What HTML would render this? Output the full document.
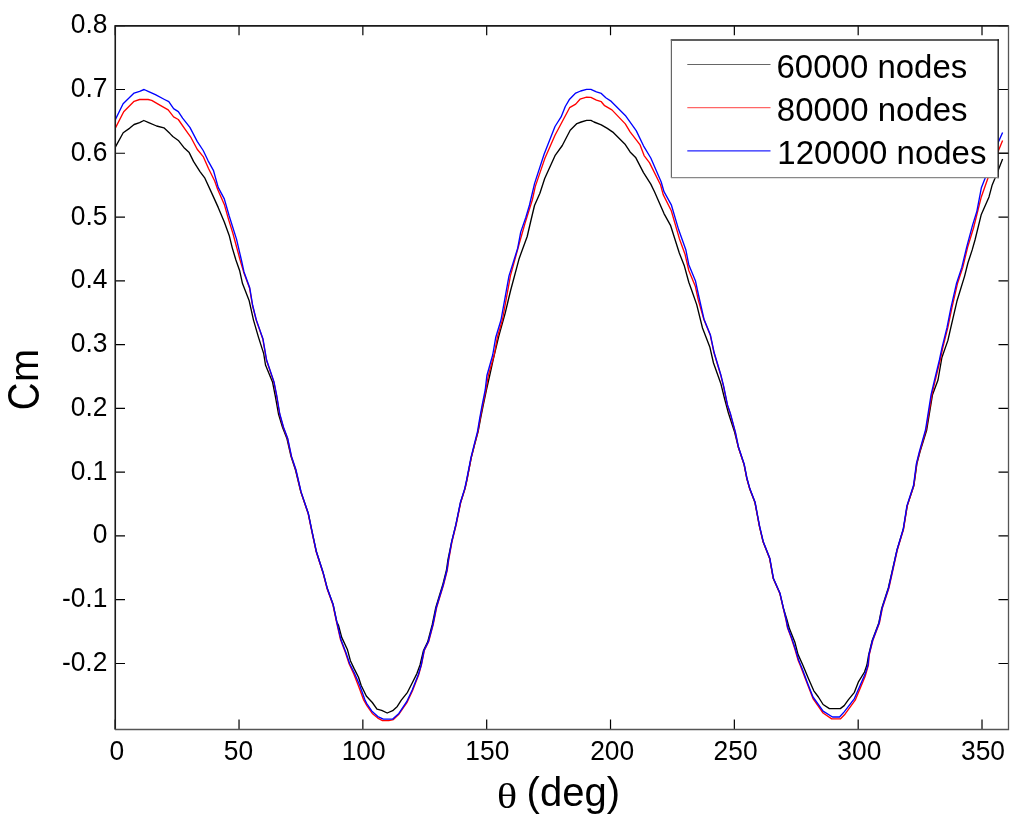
<!DOCTYPE html>
<html><head><meta charset="utf-8"><style>
html,body{margin:0;padding:0;background:#fff;width:1024px;height:822px;overflow:hidden}
svg{display:block;will-change:transform}
.ls{font-family:"Liberation Sans",sans-serif}
.lsr{font-family:"Liberation Serif",serif}
</style></head><body>
<svg width="1024" height="822" viewBox="0 0 1024 822">
<defs><clipPath id="ax"><rect x="115" y="25" width="894" height="705"/></clipPath></defs>
<g clip-path="url(#ax)" fill="none" stroke-width="1.35" stroke-linejoin="round">
<polyline stroke="#000" points="115.2,147.4 123.2,132.8 129.8,128.1 134.1,124.5 139.6,122.6 143.8,120.5 148.7,122.6 156.6,126.0 163.9,127.8 170.0,133.6 172.8,136.5 178.7,140.8 183.8,147.4 189.2,152.6 193.5,161.4 200.0,171.6 204.9,178.2 212.2,194.1 218.2,207.4 224.3,222.0 229.2,235.4 232.2,247.6 235.9,260.0 239.6,270.4 242.5,283.6 249.1,300.4 253.5,320.1 258.6,337.6 263.7,353.6 265.5,365.0 272.5,381.9 275.4,396.5 278.5,414.0 282.5,427.2 287.0,438.8 291.0,456.4 295.5,470.0 300.8,491.9 308.4,513.8 312.0,531.3 316.4,551.8 323.0,572.2 327.4,588.8 333.2,604.8 336.9,622.3 338.4,625.0 341.7,637.4 347.5,649.8 350.4,660.7 354.0,668.4 358.5,677.3 361.2,685.5 366.3,696.0 369.5,699.5 372.3,702.5 377.0,709.1 381.7,710.3 387.2,713.0 392.7,710.7 397.3,706.4 401.3,700.2 407.5,692.3 412.2,683.0 416.9,673.6 420.0,665.0 423.5,650.5 427.7,641.8 432.3,624.5 435.8,607.5 439.3,596.0 442.6,585.3 446.5,570.0 447.9,560.0 451.6,542.2 455.9,524.7 460.5,502.8 465.0,488.6 466.9,480.0 471.2,457.9 474.6,444.7 478.1,431.6 480.6,418.4 483.0,406.4 486.4,390.0 489.8,375.0 493.3,359.1 498.8,336.1 505.2,313.1 508.3,300.0 510.6,290.5 519.2,258.4 527.2,236.5 530.8,221.0 534.5,205.5 539.9,193.3 544.7,178.5 555.0,155.7 562.3,145.5 570.2,130.3 576.9,123.6 581.2,122.0 586.6,120.4 590.9,120.4 594.0,122.0 601.3,124.8 607.3,128.4 612.8,132.1 625.3,144.6 630.1,151.9 635.6,157.4 643.5,172.6 650.8,184.1 654.5,191.7 664.0,213.6 670.5,225.3 679.3,253.0 684.4,266.1 688.8,282.2 691.6,290.0 696.7,304.6 702.5,328.0 709.8,346.9 713.5,363.0 720.8,383.4 724.4,398.0 728.4,413.0 734.6,432.1 738.2,446.7 744.0,464.2 746.9,478.8 749.8,489.1 754.9,502.2 757.3,515.0 759.4,526.1 763.0,541.4 769.6,558.2 773.3,578.6 779.8,593.2 783.7,609.3 787.0,620.0 789.4,628.6 794.8,641.9 798.0,654.4 803.0,665.5 808.3,678.3 813.8,690.8 818.4,697.0 823.1,704.5 829.4,708.6 840.3,708.6 844.2,705.6 848.1,700.2 854.4,692.3 858.3,682.2 864.5,672.0 866.9,665.0 868.6,655.1 872.2,640.5 878.8,623.0 881.7,608.4 888.3,588.0 892.0,571.9 897.0,550.0 903.3,529.3 907.2,505.9 913.9,485.5 916.9,463.6 920.0,451.9 926.7,430.0 932.5,394.7 938.0,380.0 941.9,357.5 947.9,340.4 950.4,329.4 956.9,301.3 964.6,276.1 967.9,263.0 972.2,249.9 975.0,240.0 981.3,214.4 989.0,196.9 992.2,184.9 995.0,178.3 998.4,169.7 1002.6,159.1"/>
<polyline stroke="#f00" points="115.2,128.4 123.7,111.7 134.1,101.3 139.6,99.5 148.1,99.5 151.7,100.4 160.3,105.3 168.2,109.9 173.6,116.9 178.3,119.5 185.0,129.2 191.1,137.7 197.2,149.3 203.2,156.6 208.5,168.5 214.6,180.7 217.6,189.2 224.3,204.4 228.6,219.6 232.8,233.0 240.1,260.0 243.6,271.9 249.5,288.0 252.5,305.5 256.2,320.1 262.8,339.0 266.4,360.0 273.8,381.9 276.7,396.5 279.6,414.0 283.3,427.2 287.6,438.8 291.3,456.4 295.8,470.0 300.9,491.9 308.2,513.8 311.8,531.3 316.2,551.8 322.8,572.2 327.1,588.8 332.9,604.8 336.6,622.3 340.5,639.6 345.5,652.7 349.2,664.0 353.8,674.0 358.5,686.0 363.5,699.6 366.9,705.6 372.3,713.4 377.8,718.1 382.5,720.6 388.8,720.6 393.4,719.6 398.6,714.6 406.9,702.6 412.5,690.8 418.6,675.0 421.4,665.0 424.3,650.5 428.6,641.8 433.2,624.5 436.6,607.5 440.1,596.0 443.4,585.3 447.3,570.0 448.7,560.0 451.9,542.2 456.2,524.7 460.6,502.8 465.0,488.6 466.9,480.0 471.2,457.9 474.5,444.7 477.9,431.6 480.2,418.4 482.5,406.4 485.9,390.0 488.3,375.5 494.2,355.0 497.3,337.5 502.4,320.0 510.4,275.9 519.2,243.8 525.0,223.4 532.3,200.0 535.3,186.4 544.8,158.6 555.0,135.3 569.6,107.7 575.7,104.1 580.0,99.2 586.6,97.1 590.9,97.4 596.4,100.1 601.3,101.7 604.6,105.7 611.9,109.9 625.3,123.9 630.1,131.8 639.9,144.6 644.1,155.6 649.6,162.9 660.6,185.0 663.2,194.6 671.3,210.7 679.3,238.4 685.1,254.5 688.8,270.5 695.4,286.6 698.3,300.0 703.8,319.2 710.3,335.3 714.0,352.8 720.6,374.7 723.5,386.4 727.3,405.0 730.1,413.1 735.2,432.1 738.2,446.7 744.0,464.2 746.9,478.8 749.8,489.1 754.9,502.2 757.3,515.0 759.4,526.1 763.0,541.4 769.6,558.2 773.3,578.6 779.8,593.2 783.5,609.3 786.0,620.0 787.5,627.8 791.3,638.0 795.1,649.7 798.2,660.6 800.1,665.0 806.7,682.2 813.0,698.6 823.1,713.0 831.7,718.9 840.3,718.9 845.0,714.2 855.2,700.2 865.3,675.9 868.4,665.0 869.2,655.1 872.8,640.5 879.4,623.0 882.3,608.4 888.9,588.0 892.5,571.9 897.3,550.0 903.5,529.3 907.2,505.9 913.8,485.5 916.7,463.6 919.7,451.9 926.0,430.0 931.9,394.7 935.3,380.1 940.2,360.0 942.7,348.1 947.8,327.7 951.9,307.9 957.4,283.8 962.8,267.4 967.6,247.3 973.5,228.0 978.0,210.0 981.3,196.9 987.9,178.3 998.4,150.7 1002.6,140.5"/>
<polyline stroke="#00f" points="115.2,119.9 123.1,103.8 134.1,93.1 139.6,91.3 144.1,89.5 148.7,91.6 155.4,94.7 164.5,99.5 168.8,101.7 173.6,108.6 178.3,111.6 182.6,118.2 189.9,127.4 197.2,141.4 203.2,150.5 208.1,160.8 213.4,170.3 218.2,187.4 224.3,198.9 229.2,216.0 236.5,239.1 241.4,260.0 244.0,271.9 249.8,288.0 252.7,305.5 256.4,320.1 263.0,339.0 266.6,360.0 274.0,381.9 276.9,396.5 279.8,414.0 283.5,427.2 287.8,438.8 291.5,456.4 296.0,470.0 301.1,491.9 308.4,513.8 312.0,531.3 316.4,551.8 323.0,572.2 327.4,588.8 333.2,604.8 336.9,622.3 340.9,639.6 346.0,652.7 349.7,663.7 354.6,673.5 359.6,685.0 364.8,699.6 366.6,703.3 371.7,710.9 377.8,716.6 383.3,719.1 392.7,719.1 398.9,713.4 406.7,701.7 412.2,690.0 418.4,674.4 421.2,665.0 424.0,650.5 428.3,641.8 432.9,624.5 436.3,607.5 439.8,596.0 443.1,585.3 447.0,570.0 448.4,560.0 451.6,542.2 455.9,524.7 460.3,502.8 464.7,488.6 466.6,480.0 470.9,457.9 474.2,444.7 477.5,431.6 479.7,418.4 481.9,406.4 485.2,390.0 486.9,375.5 492.7,355.0 495.7,337.5 501.0,320.0 509.0,275.9 517.7,248.2 520.7,232.1 525.8,217.5 529.5,205.0 534.6,183.4 544.1,154.2 555.0,126.5 561.1,116.9 565.3,106.5 569.6,99.2 575.7,93.1 580.6,91.0 586.6,89.4 590.9,89.4 596.4,91.9 601.3,93.4 605.8,97.8 611.3,101.4 625.3,115.4 636.2,130.6 643.5,145.8 650.8,158.0 661.2,182.0 664.0,191.7 671.3,204.8 678.6,229.6 685.9,250.1 688.8,264.7 695.4,280.7 698.5,295.0 704.0,319.2 710.5,335.3 714.2,352.8 720.8,374.7 723.7,386.4 727.5,405.0 730.3,413.1 735.4,432.1 738.4,446.7 744.2,464.2 747.1,478.8 750.0,489.1 755.1,502.2 757.5,515.0 759.6,526.1 763.2,541.4 769.8,558.2 773.5,578.6 780.0,593.2 783.7,609.3 786.3,620.0 787.8,627.8 791.7,638.0 795.6,649.7 798.8,660.6 802.7,670.0 807.5,683.0 813.0,697.0 823.1,711.1 832.5,717.0 839.5,717.0 844.2,711.9 854.4,698.6 865.3,673.6 868.0,665.0 868.9,655.1 872.5,640.5 879.1,623.0 882.0,608.4 888.6,588.0 892.2,571.9 897.0,550.0 903.2,529.3 906.9,505.9 913.5,485.5 916.4,463.6 919.3,451.9 925.5,430.0 931.1,394.7 934.5,380.1 939.4,360.0 941.9,348.1 947.0,327.7 950.9,307.9 956.4,283.8 961.8,267.4 966.8,246.6 972.5,225.4 976.9,211.1 981.3,188.1 985.1,178.3 998.4,141.9 1002.6,132.4"/>
</g>
<path d="M115.20 729.5V719.5M115.20 25.7V35.2M239.03 729.5V719.5M239.03 25.7V35.2M362.86 729.5V719.5M362.86 25.7V35.2M486.69 729.5V719.5M486.69 25.7V35.2M610.52 729.5V719.5M610.52 25.7V35.2M734.35 729.5V719.5M734.35 25.7V35.2M858.18 729.5V719.5M858.18 25.7V35.2M982.01 729.5V719.5M982.01 25.7V35.2M115 663.50H125M1008.5 663.50H998.5M115 599.72H125M1008.5 599.72H998.5M115 535.94H125M1008.5 535.94H998.5M115 472.16H125M1008.5 472.16H998.5M115 408.38H125M1008.5 408.38H998.5M115 344.60H125M1008.5 344.60H998.5M115 280.82H125M1008.5 280.82H998.5M115 217.04H125M1008.5 217.04H998.5M115 153.26H125M1008.5 153.26H998.5M115 89.48H125M1008.5 89.48H998.5M115 25.70H125M1008.5 25.70H998.5" stroke="#000" stroke-width="1.2" fill="none"/>
<path d="M115.25 729.5V25.9H1008.5" stroke="#1a1a1a" stroke-width="1.6" fill="none"/>
<path d="M115 729.5H1008.5V25.5" stroke="#555" stroke-width="1.3" fill="none"/>
<g class="ls" font-size="26.4" fill="#000"><text transform="translate(116.8 760.4) scale(1 1.035)" text-anchor="middle">0</text><text transform="translate(238.4 760.4) scale(1 1.035)" text-anchor="middle">50</text><text transform="translate(363.7 760.4) scale(1 1.035)" text-anchor="middle">100</text><text transform="translate(487.3 760.4) scale(1 1.035)" text-anchor="middle">150</text><text transform="translate(612.2 760.4) scale(1 1.035)" text-anchor="middle">200</text><text transform="translate(735.6 760.4) scale(1 1.035)" text-anchor="middle">250</text><text transform="translate(859.3 760.4) scale(1 1.035)" text-anchor="middle">300</text><text transform="translate(983.0 760.4) scale(1 1.035)" text-anchor="middle">350</text><text transform="translate(107.4 671.0) scale(1 1.035)" text-anchor="end">-0.2</text><text transform="translate(107.4 607.2) scale(1 1.035)" text-anchor="end">-0.1</text><text transform="translate(107.4 543.4) scale(1 1.035)" text-anchor="end">0</text><text transform="translate(107.4 479.7) scale(1 1.035)" text-anchor="end">0.1</text><text transform="translate(107.4 415.9) scale(1 1.035)" text-anchor="end">0.2</text><text transform="translate(107.4 352.1) scale(1 1.035)" text-anchor="end">0.3</text><text transform="translate(107.4 288.3) scale(1 1.035)" text-anchor="end">0.4</text><text transform="translate(107.4 224.5) scale(1 1.035)" text-anchor="end">0.5</text><text transform="translate(107.4 160.8) scale(1 1.035)" text-anchor="end">0.6</text><text transform="translate(107.4 97.0) scale(1 1.035)" text-anchor="end">0.7</text><text transform="translate(107.4 33.2) scale(1 1.035)" text-anchor="end">0.8</text></g>
<text x="526.6" y="806" class="ls" font-size="40" fill="#000">(deg)</text>
<text transform="translate(497 808.2) scale(1.15 1)" class="lsr" font-size="36.5" fill="#000">θ</text>
<g class="ls" font-size="41" fill="#000"><text transform="translate(38.5 410.3) rotate(-90) scale(0.935 1.075)">C</text><text transform="translate(38.0 382.1) rotate(-90) scale(0.97 1)">m</text></g>
<rect x="671.3" y="39.9" width="327.1" height="137.6" fill="#fff"/>
<path d="M670.8 39.9H998.9" stroke="#2a2a2a" stroke-width="1.5" fill="none"/>
<path d="M671.4 39.5V178" stroke="#666" stroke-width="1.2" fill="none"/>
<path d="M998.2 39.3V178.2" stroke="#111" stroke-width="1.3" fill="none"/>
<path d="M671 177.6H998.6" stroke="#888" stroke-width="1.2" fill="none"/>
<path d="M998.5 153.3H1008.5" stroke="#111" stroke-width="1.4" fill="none"/>
<path d="M687.3 64.5H770.5" stroke="#666" stroke-width="1.1"/>
<path d="M687.3 107.6H770.5" stroke="#f66" stroke-width="1.1"/>
<path d="M687.3 150.8H770.5" stroke="#22f" stroke-width="1.2"/>
<g class="ls" font-size="33" fill="#000"><text transform="translate(776.5 77.6) scale(1 1.035)">60000 nodes</text><text transform="translate(776.8 120.6) scale(1 1.035)">80000 nodes</text><text transform="translate(777.3 163.9) scale(1 1.035)">120000 nodes</text></g>
</svg>
</body></html>
